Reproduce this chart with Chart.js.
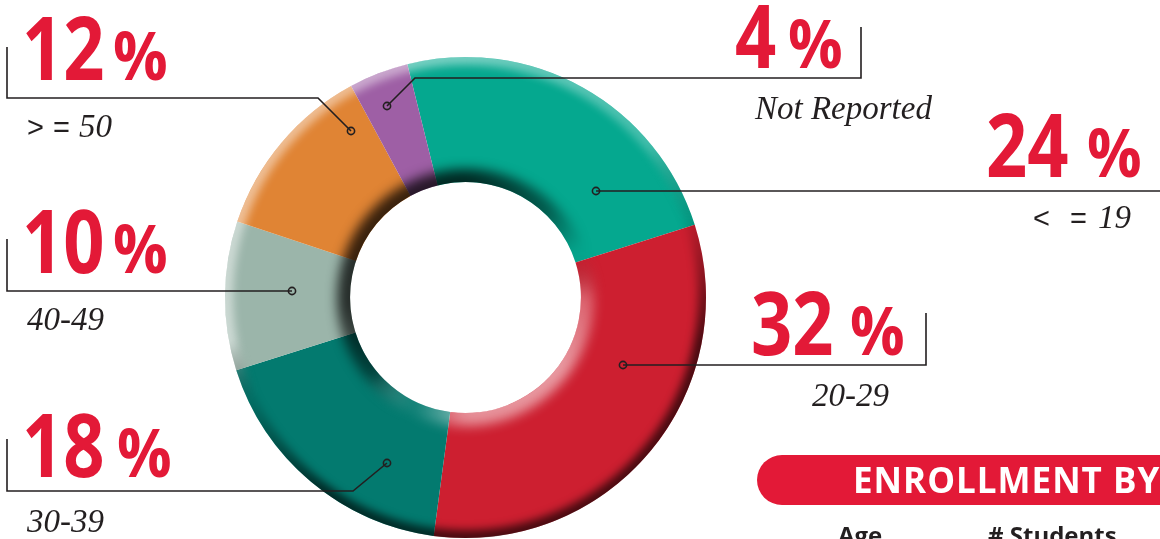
<!DOCTYPE html>
<html>
<head>
<meta charset="utf-8">
<script src="https://cdn.jsdelivr.net/npm/chart.js@4/dist/chart.umd.min.js"></script>
<style>
  html, body { margin: 0; padding: 0; background: #fff; }
  #wrap { position: relative; width: 1160px; height: 539px; overflow: hidden; }
</style>
</head>
<body>
<div id="wrap"><canvas id="ageChart" width="1160" height="539"></canvas></div>
<script>
// enrollment by age, percent of students
var ageGroups = ["< = 19", "20-29", "30-39", "40-49", "> = 50", "Not Reported"];
var percentages = [24, 32, 18, 10, 12, 4];
var segmentColors = ["#05A88F", "#CD1F30", "#037A6F", "#9BB5AA", "#E08434", "#9E5FA5"];

// where each callout sits on the page (number, percent sign, caption, leader line)
var callouts = [
  { num: 986, pct: 1087, base: 177, sub: [1033, 1070, 1098], subBase: 228, line: [[1165, 191], [596, 191]] },
  { num: 751, pct: 850, base: 355, sub: [812], subBase: 406, line: [[926, 313], [926, 365], [623, 365]] },
  { num: 22, pct: 117, base: 477, sub: [27], subBase: 532, line: [[7, 439], [7, 491], [353, 491], [387, 463]] },
  { num: 22, pct: 113, base: 273, sub: [27], subBase: 330, line: [[7, 239], [7, 291], [292, 291]] },
  { num: 22, pct: 113, base: 80, sub: [27, 53, 79], subBase: 137, line: [[7, 47], [7, 98], [318, 98], [351, 131]] },
  { num: 735, pct: 788, base: 68, sub: [755], subBase: 119, line: [[861, 27], [861, 78], [415, 78], [387, 106]] }
];

var RED = "#E31937";
var INK = "#231F20";

var bevelPlugin = {
  id: "bevel",
  afterDatasetsDraw: function (chart) {
    var arc = chart.getDatasetMeta(0).data[0];
    if (!arc) return;
    var ctx = chart.ctx;
    var x = arc.x, y = arc.y, ro = arc.outerRadius, ri = arc.innerRadius;
    ctx.save();
    ctx.beginPath();
    ctx.arc(x, y, ro, 0, Math.PI * 2);
    ctx.arc(x, y, ri, 0, Math.PI * 2, true);
    ctx.clip();

    // outer rim: light upper left, dark lower right
    var g = ctx.createConicGradient(-Math.PI / 2, x, y);
    g.addColorStop(0, "rgba(255,255,255,0.45)");
    g.addColorStop(0.14, "rgba(255,255,255,0.25)");
    g.addColorStop(0.2, "rgba(0,0,0,0.1)");
    g.addColorStop(0.28, "rgba(0,0,0,0.65)");
    g.addColorStop(0.6, "rgba(0,0,0,0.65)");
    g.addColorStop(0.68, "rgba(0,0,0,0.1)");
    g.addColorStop(0.72, "rgba(255,255,255,0.5)");
    g.addColorStop(1, "rgba(255,255,255,0.45)");
    ctx.filter = "blur(4px)";
    ctx.strokeStyle = g;
    ctx.lineWidth = 16;
    ctx.beginPath();
    ctx.arc(x, y, ro, 0, Math.PI * 2);
    ctx.stroke();

    // inner rim: dark upper left, light lower right
    var h = ctx.createConicGradient(-Math.PI / 2, x, y);
    h.addColorStop(0, "rgba(0,0,0,0.75)");
    h.addColorStop(0.12, "rgba(0,0,0,0.45)");
    h.addColorStop(0.19, "rgba(0,0,0,0)");
    h.addColorStop(0.25, "rgba(255,255,255,0.3)");
    h.addColorStop(0.35, "rgba(255,255,255,0.55)");
    h.addColorStop(0.5, "rgba(255,255,255,0.5)");
    h.addColorStop(0.57, "rgba(255,255,255,0.05)");
    h.addColorStop(0.64, "rgba(0,0,0,0.45)");
    h.addColorStop(0.74, "rgba(0,0,0,0.75)");
    h.addColorStop(1, "rgba(0,0,0,0.75)");
    ctx.filter = "blur(6px)";
    ctx.strokeStyle = h;
    ctx.lineWidth = 26;
    ctx.beginPath();
    ctx.arc(x, y, ri, 0, Math.PI * 2);
    ctx.stroke();
    ctx.restore();
  }
};

// draw text squeezed horizontally, left edge kept at x
function narrowText(ctx, text, x, y, sx) {
  ctx.save();
  ctx.translate(x, y);
  ctx.scale(sx, 1);
  ctx.fillText(text, 0, 0);
  ctx.restore();
}

var calloutPlugin = {
  id: "callouts",
  afterDraw: function (chart) {
    var ctx = chart.ctx;
    ctx.save();
    ctx.textBaseline = "alphabetic";
    ctx.textAlign = "left";
    callouts.forEach(function (c, i) {
      // leader line with a ring at the end
      ctx.strokeStyle = INK;
      ctx.lineWidth = 1.6;
      ctx.beginPath();
      c.line.forEach(function (p, k) {
        if (k === 0) ctx.moveTo(p[0], p[1]);
        else ctx.lineTo(p[0], p[1]);
      });
      ctx.stroke();
      var end = c.line[c.line.length - 1];
      ctx.beginPath();
      ctx.arc(end[0], end[1], 3.6, 0, Math.PI * 2);
      ctx.stroke();

      // big percentage
      ctx.fillStyle = RED;
      ctx.font = "bold 88px 'Open Sans'";
      narrowText(ctx, String(percentages[i]), c.num, c.base, 0.82);
      ctx.font = "bold 66px 'Open Sans'";
      narrowText(ctx, "%", c.pct, c.base, 0.92);

      // caption
      ctx.fillStyle = INK;
      var parts = ageGroups[i].split(" ");
      if (c.sub.length === parts.length) {
        parts.forEach(function (t, k) {
          if (t === "<" || t === ">" || t === "=") {
            ctx.font = "29px 'Liberation Sans'";
          } else {
            ctx.font = "italic 33px 'Liberation Serif'";
          }
          ctx.fillText(t, c.sub[k], c.subBase);
        });
      } else {
        ctx.font = "italic 33px 'Liberation Serif'";
        ctx.fillText(ageGroups[i], c.sub[0], c.subBase);
      }
    });

    // table header strip at lower right
    ctx.fillStyle = RED;
    ctx.beginPath();
    ctx.moveTo(782, 455);
    ctx.lineTo(1200, 455);
    ctx.lineTo(1200, 505);
    ctx.lineTo(782, 505);
    ctx.arc(782, 480, 25, Math.PI / 2, Math.PI * 1.5);
    ctx.closePath();
    ctx.fill();
    ctx.fillStyle = "#fff";
    ctx.font = "bold 35px 'Open Sans'";
    ctx.letterSpacing = "1px";
    ctx.fillText("ENROLLMENT BY AGE", 853, 493);
    ctx.letterSpacing = "0px";
    ctx.fillStyle = INK;
    ctx.font = "bold 24px 'Open Sans'";
    ctx.fillText("Age", 838, 544);
    ctx.fillText("# Students", 988, 544);
    ctx.restore();
  }
};

var ctx = document.getElementById("ageChart").getContext("2d");
var myChart = new Chart(ctx, {
  type: "doughnut",
  data: {
    labels: ageGroups,
    datasets: [
      {
        data: percentages,
        backgroundColor: segmentColors,
        borderWidth: 0,
        hoverOffset: 0,
      },
    ],
  },
  options: {
    responsive: false,
    animation: false,
    rotation: -14,
    cutout: "48%",
    layout: {
      padding: { left: 225, right: 454, top: 57, bottom: 1 },
    },
    plugins: {
      legend: { display: false },
      tooltip: { enabled: false },
    },
  },
  plugins: [bevelPlugin, calloutPlugin],
});
</script>
</body>
</html>
